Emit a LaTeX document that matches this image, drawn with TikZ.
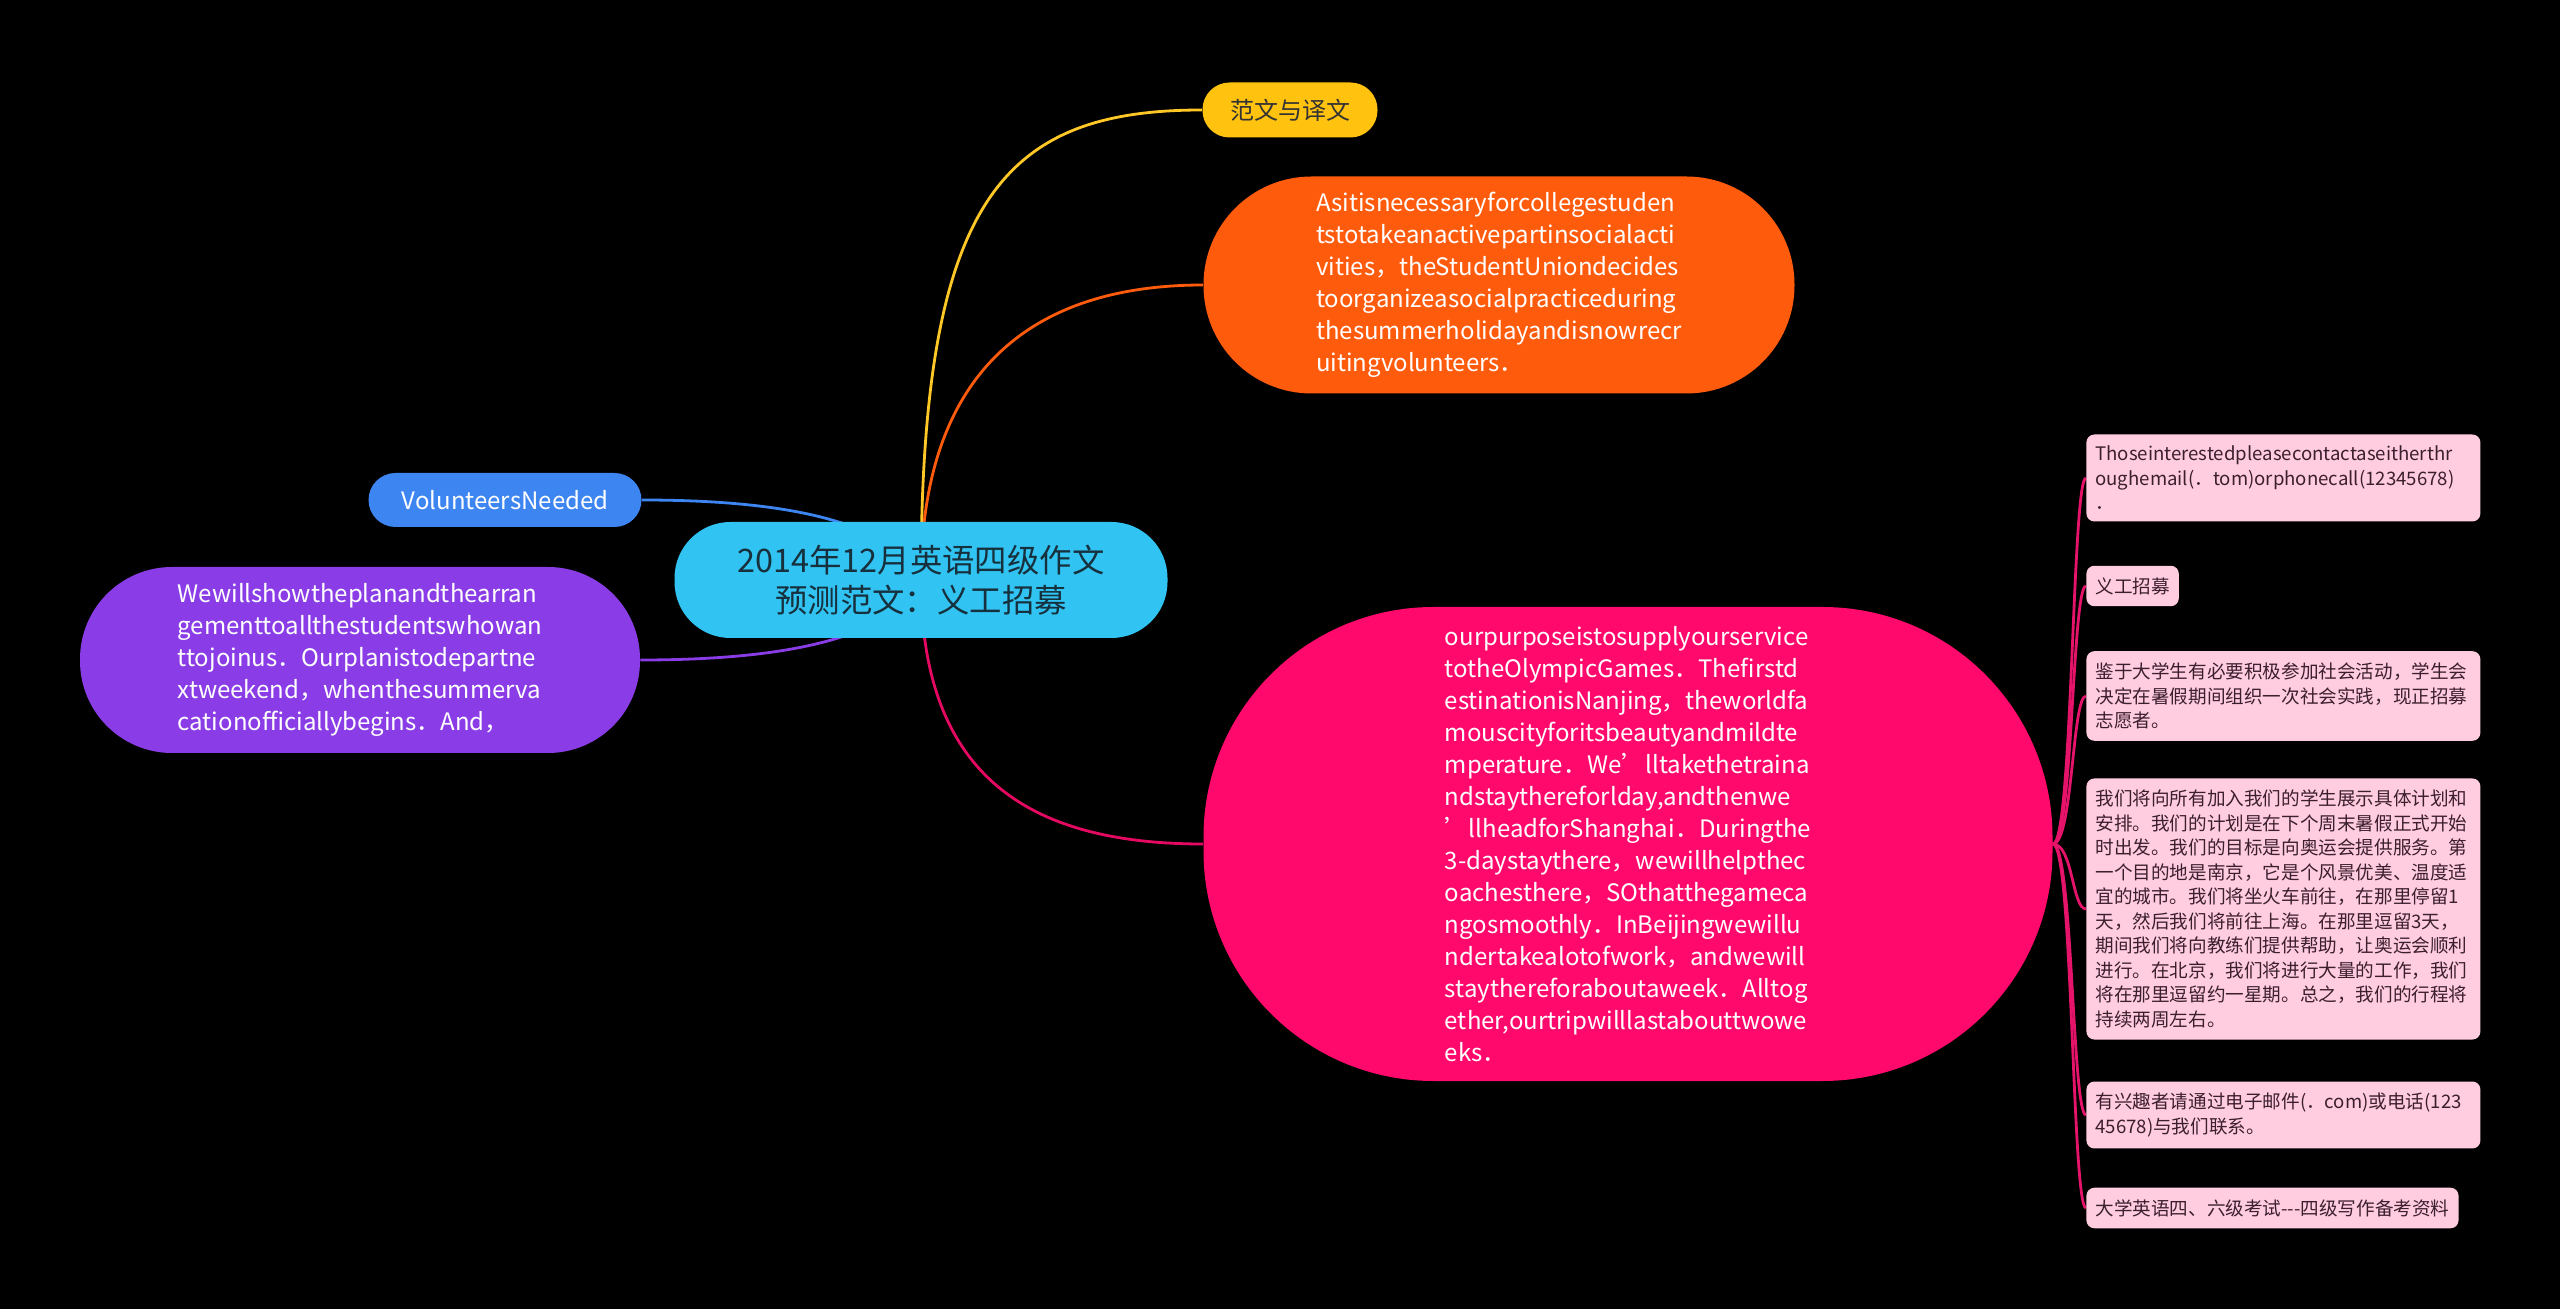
\documentclass[tikz,border=0pt]{standalone}
\usepackage{fontspec}
\setmainfont{Noto Sans CJK SC}
\usetikzlibrary{backgrounds}

\definecolor{rootblue}{HTML}{31C4F3}
\definecolor{roottext}{HTML}{17303D}
\definecolor{yelfill}{HTML}{FFC20E}
\definecolor{orgfill}{HTML}{FF5B0C}
\definecolor{pinkfill}{HTML}{FF0A6C}
\definecolor{volfill}{HTML}{3D86F2}
\definecolor{purfill}{HTML}{8A3DE6}
\definecolor{leaffill}{HTML}{FFCCE0}
\definecolor{leaftext}{HTML}{3C1F2D}
\definecolor{leafline}{HTML}{E5136A}

\newcommand\maproot{\fontsize{16.2}{20}\selectfont}
\newcommand\mapbody{\fontsize{12}{16}\selectfont}
\newcommand\mapleaf{\fontsize{9.3}{12.25}\selectfont}

\begin{document}
\begin{tikzpicture}[x=0.5pt,y=-0.5pt,
  pill/.style={rectangle,rounded corners=#1,inner sep=0pt,align=left,font=\mapbody,text=white},
  leaf/.style={rectangle,rounded corners=4pt,fill=leaffill,text=leaftext,font=\mapleaf,
    align=left,anchor=west,inner xsep=4.5pt,inner ysep=5.8pt},
  wideleaf/.style={leaf,text width=188pt},
  branch/.style={line width=1.4pt}]
\useasboundingbox (0,0) rectangle (2560,1309);
% central topic:
\node[pill=28pt,fill=rootblue,text=roottext,font=\maproot,align=center,
  minimum width=246.5pt,minimum height=58pt] (root) at (921,580)
  {2014年12月英语四级作文\\预测范文：义工招募};
% main topics, right side:
\node[pill=13.5pt,fill=yelfill,text=black!80,minimum width=87.5pt,minimum height=27.5pt]
  (yel) at (1290,110) {范文与译文};
\node[pill=54pt,fill=orgfill,minimum width=295.5pt,minimum height=108.5pt] (essay) at (1499,285)
  {Asitisnecessaryforcollegestuden\\tstotakeanactivepartinsocialacti\\vities，theStudentUniondecides\\toorganizeasocialpracticeduring\\thesummerholidayandisnowrecr\\uitingvolunteers．};
\node[pill=115pt,fill=pinkfill,minimum width=424.5pt,minimum height=237pt] (plan) at (1628,844)
  {ourpurposeistosupplyourservice\\totheOlympicGames．Thefirstd\\estinationisNanjing，theworldfa\\mouscityforitsbeautyandmildte\\mperature．We’lltakethetraina\\ndstaythereforlday,andthenwe\\’llheadforShanghai．Duringthe\\3-daystaythere，wewillhelpthec\\oachesthere，SOthatthegameca\\ngosmoothly．InBeijingwewillu\\ndertakealotofwork，andwewill\\staythereforaboutaweek．Alltog\\ether,ourtripwilllastabouttwowe\\eks．};
% main topics, left side:
\node[pill=13.5pt,fill=volfill,minimum width=136.5pt,minimum height=27pt] (vol) at (505,500)
  {VolunteersNeeded};
\node[pill=46pt,fill=purfill,minimum width=280pt,minimum height=93pt] (plan2) at (360,660)
  {Wewillshowtheplanandthearran\\gementtoallthestudentswhowan\\ttojoinus．Ourplanistodepartne\\xtweekend，whenthesummerva\\cationofficiallybegins．And，};
% subtopics of the big pink one:
\node[wideleaf] (l1) at (2086,478)
  {Thoseinterestedpleasecontactaseitherthr\\oughemail(．tom)orphonecall(12345678)\\．};
\node[leaf] (l2) at (2086,586) {义工招募};
\node[wideleaf] (l3) at (2086,696)
  {鉴于大学生有必要积极参加社会活动，学生会\\决定在暑假期间组织一次社会实践，现正招募\\志愿者。};
\node[wideleaf] (l4) at (2086,909)
  {我们将向所有加入我们的学生展示具体计划和\\安排。我们的计划是在下个周末暑假正式开始\\时出发。我们的目标是向奥运会提供服务。第\\一个目的地是南京，它是个风景优美、温度适\\宜的城市。我们将坐火车前往，在那里停留1\\天，然后我们将前往上海。在那里逗留3天，\\期间我们将向教练们提供帮助，让奥运会顺利\\进行。在北京，我们将进行大量的工作，我们\\将在那里逗留约一星期。总之，我们的行程将\\持续两周左右。};
\node[wideleaf] (l5) at (2086,1115)
  {有兴趣者请通过电子邮件(．com)或电话(123\\45678)与我们联系。};
\node[leaf] (l6) at (2086,1208) {大学英语四、六级考试-{}-{}-四级写作备考资料};
% connectors, under the nodes:
\begin{pgfonlayer}{background}
\path[fill=black] (0,0) rectangle (2560,1309);
\draw[branch,draw=yelfill!90!white] (root.center) .. controls +(0,-380) and +(-200,0) .. (yel.west);
\draw[branch,draw=orgfill] (root.center) .. controls +(0,-200) and +(-180,0) .. (essay.west);
\draw[branch,draw=pinkfill!90!black] (root.center) .. controls +(0,200) and +(-170,0) .. (plan.west);
\draw[branch,draw=volfill] (root.center) .. controls +(-30,-60) and +(140,0) .. (vol.east);
\draw[branch,draw=purfill] (root.center) .. controls +(-30,60) and +(140,0) .. (plan2.east);
\foreach \n in {l1,l2,l3,l4,l5,l6}
  \draw[branch,draw=leafline] (plan.east) .. controls +(20,0) and +(-14,0) .. (\n.west);
\end{pgfonlayer}
\end{tikzpicture}
\end{document}
